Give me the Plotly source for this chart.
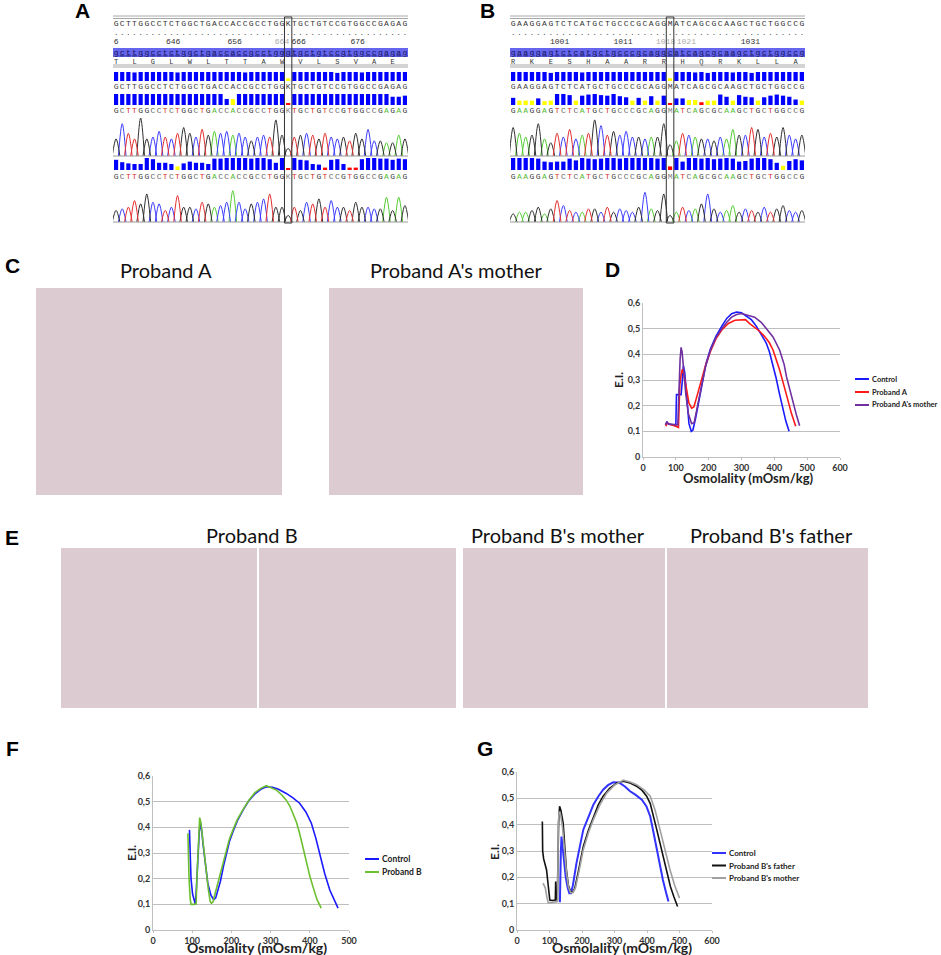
import plotly.graph_objects as go

W, H = 941, 955

# ---------------- osmotic gradient ektacytometry curves ----------------
# panel D
d_ctrl_x = [70, 73, 76, 85, 95, 100, 101, 102, 108, 116, 120, 123, 127, 133, 140, 147, 152, 160, 170, 180,
            192, 205, 222, 240, 255, 270, 285, 300, 315, 330, 345, 360, 375, 385, 396, 405, 415, 425, 435, 445]
d_ctrl_y = [0.125, 0.138, 0.13, 0.128, 0.125, 0.122, 0.185, 0.243, 0.243, 0.243, 0.30, 0.355, 0.33, 0.22, 0.13,
            0.10, 0.105, 0.15, 0.22, 0.29, 0.365, 0.42, 0.47, 0.51, 0.54, 0.558, 0.565, 0.562, 0.55, 0.535, 0.51,
            0.48, 0.445, 0.41, 0.36, 0.31, 0.25, 0.19, 0.14, 0.10]
d_pa_x = [70, 73, 78, 90, 100, 108, 110, 112, 116, 120, 125, 132, 140, 148, 155, 165, 175, 190, 205, 222, 240,
          260, 280, 300, 312, 325, 340, 355, 370, 385, 396, 416, 437, 452, 465]
d_pa_y = [0.12, 0.135, 0.128, 0.125, 0.12, 0.115, 0.2, 0.28, 0.32, 0.342, 0.32, 0.26, 0.21, 0.19, 0.195, 0.24,
          0.29, 0.355, 0.41, 0.46, 0.495, 0.52, 0.533, 0.536, 0.535, 0.52, 0.505, 0.49, 0.47, 0.445, 0.417,
          0.34, 0.242, 0.17, 0.12]
d_mo_x = [68, 72, 78, 90, 100, 106, 108, 110, 113, 116, 119, 124, 130, 138, 148, 156, 165, 175, 190, 205, 222,
          240, 255, 270, 285, 300, 320, 340, 360, 377, 396, 416, 430, 437, 447, 457, 467, 477]
d_mo_y = [0.125, 0.135, 0.128, 0.127, 0.125, 0.125, 0.2, 0.31, 0.38, 0.427, 0.41, 0.34, 0.25, 0.17, 0.13, 0.135,
          0.19, 0.26, 0.35, 0.415, 0.465, 0.5, 0.525, 0.545, 0.555, 0.559, 0.553, 0.545, 0.525, 0.5, 0.468,
          0.417, 0.36, 0.313, 0.26, 0.21, 0.165, 0.122]

# panel F
f_ctrl_x = [93, 94, 97, 101, 105, 108, 111, 114, 118, 121, 124, 128, 133, 140, 148, 155, 160, 165, 172, 180, 187,
            195, 204, 215, 230, 245, 260, 275, 289, 305, 320, 340, 357, 374, 390, 404, 415, 425, 438, 451, 462, 472]
f_ctrl_y = [0.39, 0.3, 0.2, 0.14, 0.11, 0.10, 0.17, 0.28, 0.38, 0.418, 0.39, 0.33, 0.26, 0.18, 0.135, 0.118, 0.125,
            0.15, 0.19, 0.25, 0.30, 0.345, 0.383, 0.425, 0.468, 0.505, 0.53, 0.548, 0.558, 0.556, 0.548, 0.532,
            0.515, 0.494, 0.46, 0.416, 0.36, 0.30, 0.22, 0.156, 0.12, 0.085]
f_pb_x = [89, 90, 92, 95, 97, 104, 110, 112, 115, 119, 122, 126, 131, 136, 141, 146, 149, 153, 160, 170, 180, 187,
          195, 204, 215, 230, 245, 260, 275, 289, 302, 315, 328, 340, 350, 357, 366, 374, 383, 391, 400, 408, 418, 429]
f_pb_y = [0.377, 0.3, 0.2, 0.12, 0.1, 0.1, 0.102, 0.2, 0.33, 0.438, 0.42, 0.36, 0.29, 0.234, 0.16, 0.11, 0.104,
          0.11, 0.15, 0.214, 0.27, 0.312, 0.355, 0.39, 0.43, 0.47, 0.507, 0.535, 0.552, 0.562, 0.555, 0.545,
          0.527, 0.506, 0.48, 0.455, 0.42, 0.377, 0.32, 0.26, 0.21, 0.169, 0.12, 0.085]

# panel G
g_ctrl_x = [132, 133, 135, 137, 140, 145, 150, 156, 161, 166, 172, 183, 193, 204, 220, 235, 250, 265, 280, 296,
            310, 317, 332, 348, 365, 384, 398, 410, 420, 430, 440, 449, 458, 466]
g_ctrl_y = [0.105, 0.2, 0.3, 0.355, 0.32, 0.26, 0.2, 0.16, 0.14, 0.14, 0.17, 0.254, 0.32, 0.381, 0.43, 0.476,
            0.507, 0.533, 0.55, 0.561, 0.56, 0.558, 0.545, 0.527, 0.513, 0.495, 0.47, 0.431, 0.37, 0.305, 0.245,
            0.19, 0.145, 0.108]
g_fa_x = [78, 79, 82, 87, 91, 96, 101, 108, 116, 118, 119, 120, 124, 126, 128, 131, 135, 142, 147, 152, 158, 165,
          172, 178, 190, 204, 220, 235, 250, 265, 285, 307, 327, 348, 368, 385, 399, 410, 420, 430, 440, 450, 461,
          472, 483, 494]
g_fa_y = [0.412, 0.3, 0.27, 0.25, 0.228, 0.17, 0.114, 0.112, 0.112, 0.114, 0.184, 0.115, 0.115, 0.3, 0.406, 0.47,
          0.455, 0.406, 0.32, 0.228, 0.17, 0.146, 0.145, 0.159, 0.23, 0.317, 0.38, 0.431, 0.475, 0.508, 0.538,
          0.558, 0.565, 0.558, 0.546, 0.53, 0.508, 0.48, 0.435, 0.381, 0.33, 0.275, 0.216, 0.165, 0.125, 0.089]
g_mo_x = [80, 83, 87, 92, 96, 105, 115, 125, 126, 127, 130, 134, 140, 146, 152, 158, 165, 172, 180, 192, 204, 220,
          235, 255, 276, 300, 327, 348, 368, 390, 410, 425, 440, 455, 471, 485, 500]
g_mo_y = [0.178, 0.17, 0.16, 0.125, 0.104, 0.104, 0.105, 0.108, 0.25, 0.406, 0.45, 0.44, 0.39, 0.30, 0.22, 0.165,
          0.142, 0.142, 0.16, 0.23, 0.305, 0.37, 0.419, 0.475, 0.52, 0.55, 0.569, 0.562, 0.552, 0.533, 0.508,
          0.455, 0.381, 0.30, 0.228, 0.17, 0.121]

# ---------------- sequencing panels A and B ----------------
a_ref = "GCTTGGCCTCTGGCTGACCACCGCCTGGKTGCTGTCCGTGGCCGAGAG"
a_lower = "gcttggcctctggctgaccaccgcctgggtgctgtccgtggccgagag"
a_aa = "TLGLWLTTAWVLSVAE"
a_num_text = ["6", "646", "656", "664", "666", "676"]
a_num_pos = [0, 9.3, 19.3, 27, 29.7, 39.3]
a_mut = 28
a_q1 = [1, 1, 1, 0.95, 1, 1, 1, 1, 1, 1, 0.95, 1, 1, 1, 1, 1, 1, 1, 1, 1, 1, 0.95, 1, 1, 1, 1, 1, 1, 0.3, 1,
        1, 1, 1, 1, 1, 1, 0.9, 1, 1, 1, 0.95, 1, 1, 1, 1, 1, 1, 1]
a_c1 = "BBBBBBBBBBBBBBBBBBBBBBBBBBBBYBBBBBBBBBBBBBBBBBBB"
a_q2 = [1, 1, 1, 1, 1, 1, 1, 1, 1, 1, 1, 1, 1, 1, 1, 1, 1, 1, 0.55, 0.55, 1, 1, 1, 1, 1, 1, 1, 1, 0.12, 1,
        1, 1, 1, 1, 1, 1, 1, 1, 1, 1, 1, 1, 1, 1, 1, 0.75, 0.75, 0.85]
a_c2 = "BBBBBBBBBBBBBBBBBBBYBBBBBBBBRBBBBBBBBBBBBBBBBBBB"
a_q3 = [0.85, 0.65, 0.55, 0.5, 0.5, 1, 0.9, 0.6, 0.6, 0.5, 0.3, 0.55, 0.7, 0.6, 0.6, 0.5, 0.95, 0.95, 1, 1,
        1, 1, 0.95, 1, 1, 0.9, 0.6, 1, 0.15, 1, 0.85, 0.8, 0.5, 0.45, 0.2, 0.85, 0.9, 0.5, 0.2, 0.2,
        0.9, 1, 1, 0.95, 0.95, 0.85, 0.95, 0.9]
a_c3 = "BBBBBBBBBBYBBBBBBBBBBBBBBBBBRBBBBBRBBBRRBBBBBBBB"
a_peak1 = [0.45, 0.85, 0.6, 0.45, 1.0, 0.45, 0.5, 0.65, 0.5, 0.45, 0.6, 0.75, 0.6, 0.5, 0.7, 0.55, 0.65, 0.6,
           0.65, 0.55, 0.6, 0.5, 0.4, 0.5, 0.55, 0.5, 0.95, 0.55, 0.2, 0.5, 0.55, 0.6, 0.55, 0.45, 0.6, 0.5,
           0.45, 0.5, 0.4, 0.6, 0.45, 0.7, 0.4, 0.4, 0.35, 0.35, 0.55, 0.45]
a_peak2 = [0.35, 0.4, 0.45, 0.65, 0.55, 0.85, 0.6, 0.55, 0.35, 0.45, 0.8, 0.45, 0.45, 0.4, 0.6, 0.55, 0.45, 0.5,
           0.6, 0.95, 0.6, 0.4, 0.55, 0.6, 0.7, 0.85, 0.45, 0.45, 0.2, 0.45, 0.35, 0.6, 0.55, 0.7, 0.45, 0.65,
           0.45, 0.45, 0.35, 0.6, 0.45, 0.45, 0.4, 0.4, 0.75, 0.35, 0.75, 0.5]

b_ref = "GAAGGAGTCTCATGCTGCCCGCAGGMATCAGCGCAAGCTGCTGGCCG"
b_lower = "gaaggagtctcatgctgcccgcaggcatcagcgcaagctgctggccg"
b_aa = "RKESHAARRHQRKLLA"
b_num_text = ["1001", "1011", "1018", "1021", "1031", "1"]
b_num_pos = [7.4, 17.5, 24.3, 27.6, 37.8, 46.9]
b_mut = 25
b_q1 = [1, 1, 1, 1, 1, 1, 0.9, 1, 1, 1, 1, 0.95, 1, 1, 1, 1, 1, 1, 1, 1, 1, 1, 1, 1, 1, 0.3, 1, 1, 1, 0.95,
        1, 0.9, 1, 1, 1, 0.95, 1, 1, 0.9, 1, 1, 1, 1, 1, 1, 1, 1]
b_c1 = "BBBBBBBBBBBBBBBBBBBBBBBBBYBBBBBBBBBBBBBBBBBBBBB"
b_q2 = [0.65, 0.4, 0.4, 0.4, 0.6, 0.35, 0.4, 1, 1, 0.9, 0.4, 0.85, 0.95, 1, 0.9, 0.85, 1, 0.8, 0.7, 0.4,
        0.65, 0.4, 0.8, 0.4, 0.85, 0.1, 0.6, 0.6, 0.45, 0.45, 0.25, 0.4, 0.4, 0.95, 0.75, 0.4, 0.9, 0.75, 0.7,
        0.4, 0.7, 0.85, 0.95, 0.85, 0.75, 0.5, 0.4]
b_c2 = "BYYYBYYBBBYBBBBBBBBYBYBYBRBBYYRYYBBYBBBYBBBBBBY"
b_q3 = [1, 1, 1, 1, 0.95, 0.7, 0.65, 0.7, 0.7, 0.95, 0.8, 1, 0.95, 0.9, 0.95, 1, 1, 0.95, 1, 1, 1, 1, 1, 0.95,
        1, 0.3, 1, 0.7, 1, 1, 0.95, 1, 0.9, 0.95, 1, 0.95, 0.7, 0.75, 0.95, 1, 1, 0.9, 0.6, 0.35, 0.75, 0.9, 0.8]
b_c3 = "BBBBBBBBBBBBBBBBBBBBBBBBBRBBBBBBBBBBBBBBBBBYBBB"
b_peak1 = [0.75, 0.6, 0.5, 0.55, 0.85, 0.45, 0.35, 0.6, 0.5, 0.7, 0.45, 0.55, 0.6, 0.95, 0.8, 0.55, 0.65, 0.55,
           0.65, 0.5, 0.5, 0.45, 0.5, 0.5, 0.85, 0.3, 0.4, 0.6, 0.55, 0.5, 0.45, 0.45, 0.4, 0.5, 0.45, 0.7,
           0.55, 0.55, 0.75, 0.7, 0.5, 0.6, 0.5, 0.75, 0.55, 0.45, 0.55]
b_peak2 = [0.25, 0.3, 0.3, 0.35, 0.45, 0.25, 0.4, 0.65, 0.5, 0.35, 0.3, 0.3, 0.4, 0.4, 0.3, 0.45, 0.3, 0.4, 0.35,
           0.3, 0.45, 0.9, 0.4, 0.35, 0.85, 0.2, 0.3, 0.45, 0.35, 0.4, 0.55, 0.85, 0.4, 0.3, 0.35, 0.5, 0.3, 0.4,
           0.35, 0.3, 0.45, 0.3, 0.4, 0.5, 0.35, 0.3, 0.35]

panel_letters = ["A", "B", "C", "D", "E", "F", "G"]
smear_titles = ["Proband A", "Proband A's mother", "Proband B", "Proband B's mother", "Proband B's father"]

# ---------------- styling ----------------
LETTER_FONT = "Liberation Sans"
CHART_FONT = "Lato"
GRID = "#BFBFBF"
SMEAR = "#DCCBD0"
QCOL = {"B": "#0000FF", "Y": "#FFFF00", "R": "#FF0000"}
BASECOL = {"A": "#55CC33", "C": "#3C3CFF", "G": "#303030", "T": "#E53030"}
TXTCOL = {"A": "#55BB33", "C": "#6A6A6A", "G": "#404040", "T": "#D93030"}


def px(x):
    return x / W


def py(y):
    return 1 - y / H


fig = go.Figure()


def seq_panel(xa, ya, ref, lower, aa, num_text, num_pos, mut, quals, peaks):
    n = len(ref)
    idx = list(range(n))
    common = dict(xaxis=xa, yaxis=ya, showlegend=False, hoverinfo="skip")
    mono = "Liberation Mono"
    # reference row + dots
    fig.add_trace(go.Scatter(x=idx, y=[24] * n, mode="text", text=list(ref),
                             textfont=dict(family=mono, size=8, color="#333"), **common))
    fig.add_trace(go.Scatter(x=idx, y=[33] * n, mode="text", text=["."] * n,
                             textfont=dict(family=mono, size=8, color="#555"), **common))
    num_col = ["#AAAAAA" if i == 3 or (t == "1018") else "#333" for i, t in enumerate(num_text)]
    fig.add_trace(go.Scatter(x=num_pos, y=[42] * len(num_pos), mode="text", text=num_text,
                             textfont=dict(family=mono, size=8, color=num_col), **common))
    fig.add_trace(go.Scatter(x=idx, y=[52.5] * n, mode="text", text=["<u>%s</u>" % c for c in lower],
                             textfont=dict(family=mono, size=8, color="#15155A"), **common))
    fig.add_trace(go.Scatter(x=[3 * k for k in range(len(aa))], y=[62] * len(aa), mode="text",
                             text=list(aa), textfont=dict(family=mono, size=7, color="#333"), **common))
    # quality bars
    rows = [(81, 9), (105, 11), (170, 12)]
    for (bottom, hmax), (q, c) in zip(rows, quals):
        fig.add_trace(go.Bar(x=idx, y=[-v * hmax for v in q], base=bottom, width=0.68,
                             marker=dict(color=[QCOL[k] for k in c], line=dict(width=0)), **common))
    # called bases
    fig.add_trace(go.Scatter(x=idx, y=[87] * n, mode="text", text=list(ref),
                             textfont=dict(family=mono, size=8, color="#444"), **common))
    for yy in (111, 177):
        fig.add_trace(go.Scatter(x=idx, y=[yy] * n, mode="text", text=list(ref),
                                 textfont=dict(family=mono, size=8,
                                               color=[TXTCOL.get(c, "#888") for c in ref]), **common))
    # chromatograms
    for (base_y, hmax), pk in zip([(156, 38), (222, 33)], peaks):
        for b in "ACGT":
            xs, ys = [], []
            for i, (c, h) in enumerate(zip(ref, pk)):
                if c == b or (i == mut and b == "G"):
                    xs += [i - 0.62, i, i + 0.62, None]
                    ys += [base_y, base_y - h * hmax, base_y, None]
            fig.add_trace(go.Scatter(x=xs, y=ys, mode="lines", line=dict(color=BASECOL[b], width=1,
                                                                         shape="spline"), **common))
    return n


na = seq_panel("x", "y", a_ref, a_lower, a_aa, a_num_text, a_num_pos, a_mut,
               [(a_q1, a_c1), (a_q2, a_c2), (a_q3, a_c3)], [a_peak1, a_peak2])
nb = seq_panel("x2", "y2", b_ref, b_lower, b_aa, b_num_text, b_num_pos, b_mut,
               [(b_q1, b_c1), (b_q2, b_c2), (b_q3, b_c3)], [b_peak1, b_peak2])

# ---------------- curves ----------------
curves = [
    # x, y, name, colour, axes, width
    (d_ctrl_x, d_ctrl_y, "Control", "#1A1AFF", "3", 1.6),
    (d_pa_x, d_pa_y, "Proband A", "#FF1A1A", "3", 1.6),
    (d_mo_x, d_mo_y, "Proband A's mother", "#7030A0", "3", 1.6),
    (f_ctrl_x, f_ctrl_y, "Control", "#1A1AFF", "4", 1.6),
    (f_pb_x, f_pb_y, "Proband B", "#6CBF2E", "4", 1.6),
    (g_ctrl_x, g_ctrl_y, "Control", "#3333FF", "5", 2),
    (g_fa_x, g_fa_y, "Proband B's father", "#111111", "5", 1.6),
    (g_mo_x, g_mo_y, "Proband B's mother", "#A0A0A0", "5", 1.6),
]
for x, y, name, color, ax, lw in curves:
    fig.add_trace(go.Scatter(x=x, y=y, name=name, mode="lines", line=dict(color=color, width=lw),
                             xaxis="x" + ax, yaxis="y" + ax, showlegend=False))


def x_axis(dom, rng):
    return dict(domain=[px(dom[0]), px(dom[1])], range=rng, dtick=100, tick0=0, showgrid=False,
                zeroline=False, showline=True, linecolor=GRID, ticks="outside", ticklen=2, tickcolor=GRID,
                tickfont=dict(family=CHART_FONT, size=9, color="#333", weight="bold"),
                automargin=False, fixedrange=True)


def y_axis(dom, xa):
    return dict(domain=[py(dom[1]), py(dom[0])], range=[0, 0.6], dtick=0.1, tick0=0, showgrid=True,
                gridcolor=GRID, zeroline=False, showline=True, linecolor=GRID, anchor=xa,
                tickfont=dict(family=CHART_FONT, size=9, color="#333", weight="bold"),
                automargin=False, fixedrange=True)


def hidden(dom, rng, anchor, vertical=False):
    d = [py(dom[1]), py(dom[0])] if vertical else [px(dom[0]), px(dom[1])]
    return dict(domain=d, range=rng, visible=False, anchor=anchor, fixedrange=True)


layout = dict(
    width=W, height=H, margin=dict(l=0, r=0, t=0, b=0), paper_bgcolor="white", plot_bgcolor="white",
    separators=", ", barmode="overlay", showlegend=False,
    xaxis=hidden((113, 408), [-0.5, na - 0.5], "y"),
    yaxis=hidden((14, 226), [226, 14], "x", True),
    xaxis2=hidden((510, 805), [-0.5, nb - 0.5], "y2"),
    yaxis2=hidden((14, 226), [226, 14], "x2", True),
    xaxis3=dict(x_axis((643, 840), [0, 600]), anchor="y3"),
    yaxis3=y_axis((303, 457), "x3"),
    xaxis4=dict(x_axis((153, 349), [0, 500]), anchor="y4"),
    yaxis4=y_axis((776, 930), "x4"),
    xaxis5=dict(x_axis((517, 712), [0, 600]), anchor="y5"),
    yaxis5=y_axis((772, 930), "x5"),
)

shapes = []
# sequence panel frames
for xa, ya, n, mut in (("x", "y", na, a_mut), ("x2", "y2", nb, b_mut)):
    for yy in (16, 18.5, 65, 67):
        shapes.append(dict(type="line", xref=xa, yref=ya, x0=-0.5, x1=n - 0.5, y0=yy, y1=yy,
                           line=dict(color="#A8A8A8", width=1)))
    shapes.append(dict(type="rect", xref=xa, yref=ya, x0=-0.5, x1=n - 0.5, y0=48, y1=57,
                       fillcolor="#6565EE", line=dict(width=0), layer="below"))
    for yy in (156, 222):
        shapes.append(dict(type="line", xref=xa, yref=ya, x0=-0.5, x1=n - 0.5, y0=yy, y1=yy,
                           line=dict(color="#9A9A9A", width=1)))
    shapes.append(dict(type="rect", xref=xa, yref=ya, x0=mut - 0.6, x1=mut + 0.6, y0=17, y1=223,
                       line=dict(color="#333", width=1)))

# blood smear frames (photographs in the original)
for x0, x1, y0, y1 in ((36, 282, 288, 495), (329, 583, 288, 495), (61, 257, 548, 708),
                       (259, 456, 548, 708), (463, 665, 548, 708), (667, 868, 548, 708)):
    shapes.append(dict(type="rect", xref="paper", yref="paper", x0=px(x0), x1=px(x1), y0=py(y1), y1=py(y0),
                       fillcolor=SMEAR, line=dict(width=0), layer="below"))

annotations = []


def note(text, x, y, size, family=CHART_FONT, color="#111", anchor="center", angle=0):
    annotations.append(dict(text=text, x=px(x), y=py(y), xref="paper", yref="paper", showarrow=False,
                            xanchor=anchor, yanchor="middle", textangle=angle,
                            font=dict(family=family, size=size, color=color)))


for letter, (lx, ly) in zip(panel_letters, [(82, 11), (487, 11), (12, 265), (612, 270), (12, 537),
                                            (12, 748), (485, 748)]):
    note("<b>%s</b>" % letter, lx, ly, 21, LETTER_FONT, "black")
for title, (tx, ty) in zip(smear_titles, [(166, 270), (456, 270), (252, 535), (558, 535), (771, 535)]):
    note(title, tx, ty, 20)

# axis titles
for (tx, ty), size in (((748, 478), 13), ((257, 947), 14), ((622, 947), 14)):
    note("<b>Osmolality (mOsm/kg)</b>", tx, ty, size, color="#222")
for tx, ty in ((618, 380), (131, 853), (494, 852)):
    note("<b>E.I.</b>", tx, ty, 12, color="#222", angle=-90)

# legends: key line + label, one block per chart
legend_blocks = {"3": (855, [379, 392, 405], 7.5), "4": (365, [859, 872], 8.5), "5": (712, [853, 865.5, 878], 8)}
counters = {"3": 0, "4": 0, "5": 0}
for x, y, name, color, ax, lw in curves:
    lx, rows, size = legend_blocks[ax]
    ly = rows[counters[ax]]
    counters[ax] += 1
    shapes.append(dict(type="line", xref="paper", yref="paper", x0=px(lx), x1=px(lx + 14), y0=py(ly), y1=py(ly),
                       line=dict(color=color, width=2)))
    note("<b>%s</b>" % name, lx + 15, ly, size, color="#222", anchor="left")

layout["shapes"] = shapes
layout["annotations"] = annotations

fig.update_layout(**layout)
fig.write_html("out.html", config={"displayModeBar": False},
               post_script="document.body.style.margin='0';document.body.style.overflow='hidden';")
